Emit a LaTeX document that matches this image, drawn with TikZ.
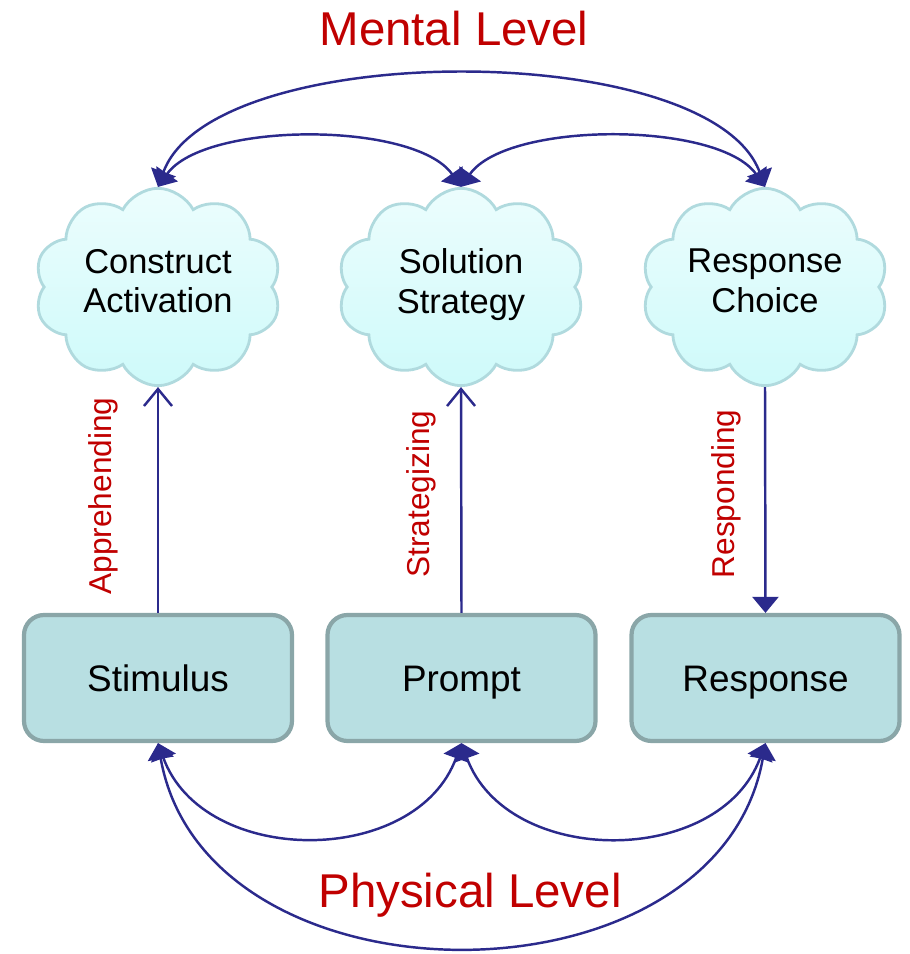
\documentclass[tikz,border=0pt]{standalone}
\usepackage{fontspec}
\setmainfont{Liberation Sans}
\usetikzlibrary{shapes.symbols,arrows.meta}
\definecolor{navy}{RGB}{43,42,140}
\definecolor{levelred}{RGB}{192,0,0}
\definecolor{boxfill}{RGB}{184,223,226}
\definecolor{boxline}{RGB}{138,166,168}
\definecolor{cloudtop}{RGB}{236,253,253}
\definecolor{cloudbot}{RGB}{206,250,250}
\definecolor{cloudline}{RGB}{176,218,222}

\begin{document}
\begin{tikzpicture}[
thought/.style={cloud, cloud puffs=10, cloud puff arc=125, aspect=1.4, draw=cloudline, line width=1.6pt,
top color=cloudtop, bottom color=cloudbot, align=center, text width=3.22cm, inner sep=0pt,
font=\fontsize{19.6}{22.7}\selectfont},
phys/.style={draw=boxline, fill=boxfill, line width=2.4pt, rounded corners=0.4cm,
minimum width=5.36cm, minimum height=2.52cm, text height=15pt, text depth=0pt,
font=\fontsize{21}{24}\selectfont},
level/.style={text=levelred, font=\fontsize{27}{30}\selectfont},
step label/.style={text=levelred, rotate=90, font=\fontsize{18}{20}\selectfont},
link/.style={draw=navy, line width=1.4pt},
up/.style={link, arrows={-Straight Barb[length=3.4mm,width=5.6mm]}},
down/.style={link, arrows={-Triangle[length=3.2mm,width=5.2mm]}},
both/.style={link, arrows={Triangle[length=3.2mm,width=5.2mm]-Triangle[length=3.2mm,width=5.2mm]}}
]
\useasboundingbox (0,0) rectangle (18.18,19.08);

\node[level] (mental) at (9.08,18.5) {Mental Level};
\node[level] (physical) at (9.4,1.18) {Physical Level};

\node[thought] (activation) at (3.16,13.34) {Construct\\Activation\strut};
\node[thought] (strategy) at (9.22,13.34) {Solution\\Strategy\strut};
\node[thought] (choice) at (15.3,13.34) {Response\\Choice\strut};

\node[phys] (stimulus) at (3.16,5.52) {Stimulus};
\node[phys] (prompt) at (9.23,5.52) {Prompt};
\node[phys] (response) at (15.31,5.52) {Response};

\node[step label] (apprehend) at (2.06,9.16) {Apprehending};
\node[step label] (strategize) at (8.42,9.2) {Strategizing};
\node[step label] (respond) at (14.52,9.2) {Responding};

\draw[up] (stimulus.north) -- (activation.south);
\draw[up] (prompt.north) -- (strategy.south);
\draw[down] (choice.south) -- (response.north);

\draw[both] (activation.north) to[out=55,in=125,looseness=0.68] (strategy.north);
\draw[both] (strategy.north) to[out=55,in=125,looseness=0.68] (choice.north);
\draw[both] (activation.north) to[out=70,in=110,looseness=0.67] (choice.north);

\draw[both] (stimulus.south) to[out=-70,in=-110,looseness=1.12] (prompt.south);
\draw[both] (prompt.south) to[out=-70,in=-110,looseness=1.12] (response.south);
\draw[both] (stimulus.south) to[out=-80,in=-100,looseness=1.16] (response.south);
\end{tikzpicture}
\end{document}
